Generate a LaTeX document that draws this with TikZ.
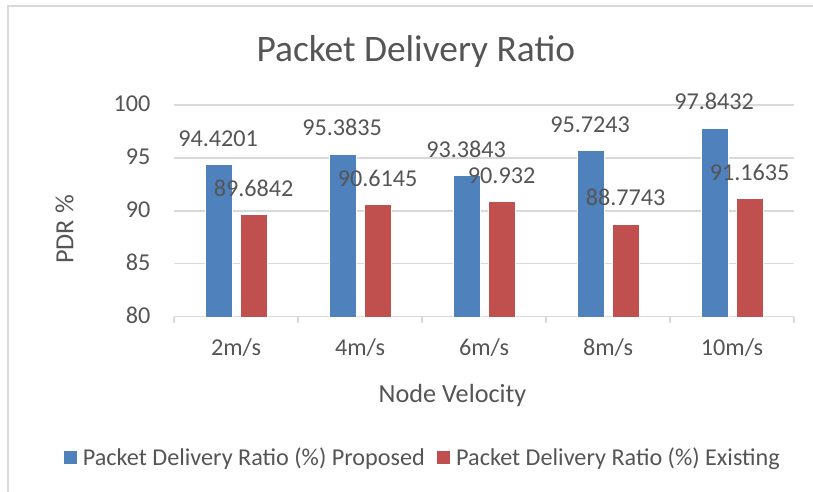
\documentclass[tikz,border=0pt]{standalone}
\usepackage{fontspec}
\setmainfont{Carlito}
\definecolor{txt}{HTML}{555555}
\definecolor{gridc}{HTML}{D9D9D9}
\definecolor{barblue}{HTML}{4F81BD}
\definecolor{barred}{HTML}{C0504D}
\begin{document}
\begin{tikzpicture}[x=1pt,y=-1pt,
  lbl/.style={text=txt,font=\fontsize{24.2}{28}\selectfont,inner sep=0pt},
  ttl/.style={text=txt,font=\fontsize{37.4}{42}\selectfont,inner sep=0pt},
  axttl/.style={text=txt,font=\fontsize{26.2}{30}\selectfont,inner sep=0pt},
  gridline/.style={draw=gridc,line width=1.3pt},
  bluebar/.style={fill=barblue,draw=white,line width=0.4pt},
  redbar/.style={fill=barred,draw=white,line width=0.4pt},
  legkey/.style={minimum size=13pt,inner sep=0pt}]
\useasboundingbox (0,0) rectangle (813,492);
\clip (0,0) rectangle (813,492);
\fill[white] (0,0) rectangle (813,492);
\draw[gridc,line width=1.5pt] (8,6) rectangle (840,520);
% title
\node[ttl,anchor=base] (title) at (415.8,61.7) {Packet Delivery Ratio};
% gridlines and y labels
\foreach \v in {80,85,90,95,100}{
  \pgfmathsetmacro{\yy}{316.7-(\v-80)*10.58}
  \draw[gridline] (174,\yy) coordinate (gl\v) -- (794,\yy) coordinate (gr\v);
  \node[lbl,anchor=base east] (yl\v) at (150.7,\yy+6.7) {\v};
}
% ticks
\foreach \k in {0,...,5}{
  \pgfmathsetmacro{\xx}{174+124*\k}
  \draw[gridline] (\xx,316.7) coordinate (ta\k) -- (\xx,323.3) coordinate (tb\k);
}
% bars
\foreach \i/\a/\b in {1/94.4201/89.6842,2/95.3835/90.6145,3/93.3843/90.932,4/95.7243/88.7743,5/97.8432/91.1635}{
  \pgfmathsetmacro{\c}{174+124*(\i-0.5)}
  \pgfmathsetmacro{\ya}{316.7-(\a-80)*10.58}
  \pgfmathsetmacro{\yb}{316.7-(\b-80)*10.58}
  \pgfmathtruncatemacro{\sp}{2*\i}
  \path[bluebar] (\c-31.3,316.7) rectangle (\c-4,\ya);
  \path[redbar] (\c+4,316.7) rectangle (\c+31.3,\yb);
  \node[lbl,anchor=base] (pa\i) at (\c-17.9,\ya-18) {\a};
  \node[lbl,anchor=base] (pb\i) at (\c+17.6,\yb-18) {\b};
  \node[lbl,anchor=base] (cat\i) at (\c,355) {\sp m/s};
}
% axis titles
\node[axttl,anchor=base] (xt) at (452.5,402) {Node Velocity};
\node[axttl,rotate=90,anchor=center] (yt) at (64.5,229.5) {PDR \%};
% legend
\node[legkey,fill=barblue,anchor=north west] (k1) at (63.3,451) {};
\node[lbl,anchor=base west] (l1) at (82.7,465) {Packet Delivery Ratio (\%) Proposed};
\node[legkey,fill=barred,anchor=north west] (k2) at (436.7,451) {};
\node[lbl,anchor=base west] (l2) at (456,465) {Packet Delivery Ratio (\%) Existing};
\end{tikzpicture}
\end{document}
